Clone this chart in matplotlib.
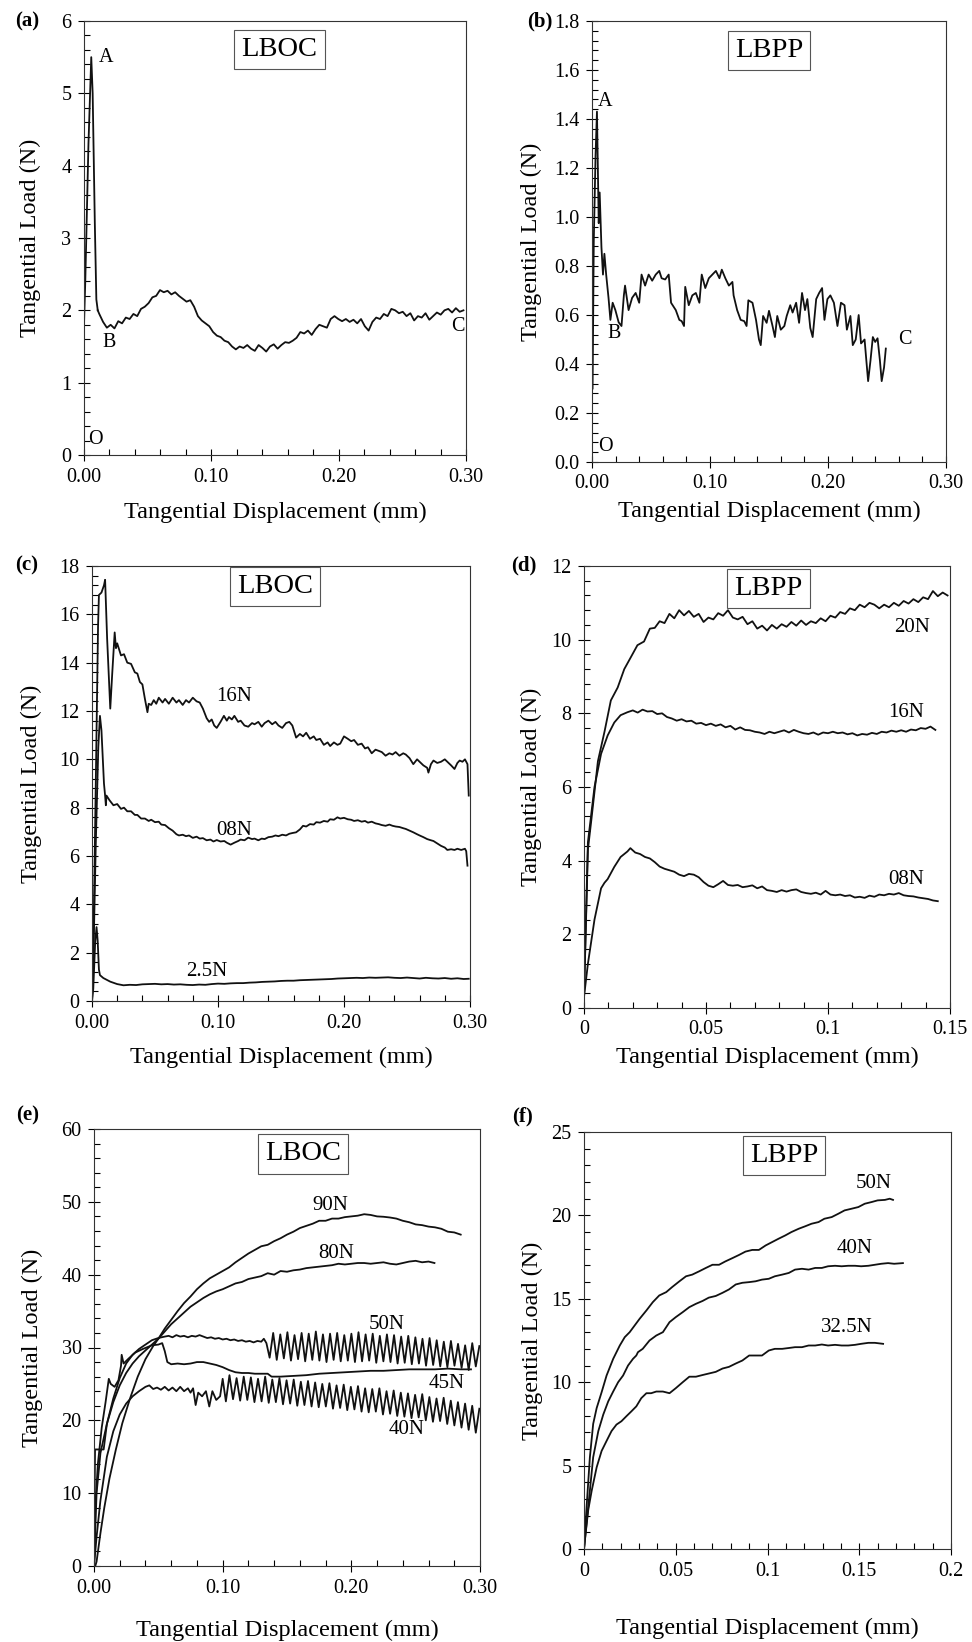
import numpy as np
import matplotlib
matplotlib.use('Agg')
import matplotlib.pyplot as plt
from matplotlib.ticker import MultipleLocator, FormatStrFormatter

plt.rcParams['font.family'] = 'Liberation Serif'

# ---------------- data ----------------
# (a) LBOC, single run: O-A rise, A peak, B drop, noisy plateau to C
A_START_X = [0.0, 0.0, 0.001, 0.0035, 0.0057, 0.0068, 0.0085, 0.0097, 0.0108]
A_START_Y = [1.2, 1.8, 2.4, 4.3, 5.5, 5.0, 3.2, 2.15, 2.0]
A_NOISE_Y = [1.95, 1.84, 1.76, 1.80, 1.75, 1.85, 1.82, 1.90, 1.88, 1.95, 1.92, 2.02,
             2.05, 2.10, 2.18, 2.20, 2.28, 2.25, 2.27, 2.22, 2.25, 2.20, 2.16, 2.12,
             2.14, 2.05, 1.92, 1.86, 1.82, 1.78, 1.70, 1.65, 1.63, 1.58, 1.56, 1.50,
             1.46, 1.50, 1.48, 1.52, 1.47, 1.44, 1.52, 1.48, 1.43, 1.50, 1.53, 1.47,
             1.52, 1.56, 1.55, 1.58, 1.62, 1.70, 1.68, 1.72, 1.66, 1.74, 1.80, 1.78,
             1.76, 1.88, 1.92, 1.88, 1.85, 1.88, 1.84, 1.87, 1.82, 1.88, 1.78, 1.72,
             1.84, 1.90, 1.88, 1.95, 1.92, 2.02, 2.00, 1.96, 1.98, 1.92, 1.96, 1.86,
             1.92, 1.90, 1.96, 1.87, 1.92, 1.97, 1.94, 2.00, 2.02, 1.97, 2.03, 1.98, 2.00]

# (b) LBPP, single run
B_RUN = np.array([
    (0.0005, 0.30), (0.0015, 0.90), (0.003, 1.25), (0.0042, 1.43), (0.0057, 0.975),
    (0.0065, 1.10), (0.008, 0.877), (0.0093, 0.765), (0.0105, 0.85), (0.012, 0.765),
    (0.014, 0.67), (0.0156, 0.58), (0.0175, 0.65), (0.0198, 0.62), (0.0226, 0.57),
    (0.025, 0.555), (0.027, 0.68), (0.028, 0.72), (0.031, 0.62), (0.034, 0.67),
    (0.037, 0.69), (0.040, 0.65), (0.042, 0.765), (0.045, 0.72), (0.048, 0.765),
    (0.051, 0.74), (0.054, 0.765), (0.057, 0.78), (0.059, 0.75), (0.062, 0.745),
    (0.065, 0.765), (0.067, 0.65), (0.071, 0.62), (0.074, 0.58), (0.076, 0.575),
    (0.078, 0.555), (0.079, 0.715), (0.082, 0.64), (0.085, 0.68), (0.088, 0.69),
    (0.091, 0.65), (0.093, 0.765), (0.096, 0.71), (0.099, 0.75), (0.102, 0.765),
    (0.105, 0.78), (0.108, 0.75), (0.110, 0.785), (0.113, 0.75), (0.116, 0.72),
    (0.119, 0.735), (0.120, 0.68), (0.123, 0.62), (0.126, 0.58), (0.129, 0.575),
    (0.131, 0.555), (0.1325, 0.66), (0.136, 0.65), (0.139, 0.58), (0.1415, 0.50),
    (0.143, 0.477), (0.145, 0.596), (0.148, 0.568), (0.150, 0.617), (0.153, 0.555),
    (0.155, 0.51), (0.157, 0.596), (0.160, 0.54), (0.163, 0.555), (0.165, 0.596),
    (0.168, 0.64), (0.170, 0.61), (0.173, 0.65), (0.1755, 0.568), (0.178, 0.69),
    (0.1805, 0.62), (0.1825, 0.665), (0.185, 0.547), (0.187, 0.51), (0.190, 0.665),
    (0.1925, 0.69), (0.195, 0.71), (0.197, 0.58), (0.1995, 0.665), (0.202, 0.68),
    (0.205, 0.65), (0.208, 0.555), (0.211, 0.65), (0.214, 0.64), (0.216, 0.54),
    (0.219, 0.596), (0.221, 0.477), (0.2235, 0.50), (0.226, 0.60), (0.228, 0.484),
    (0.231, 0.50), (0.2325, 0.414), (0.234, 0.33), (0.236, 0.414), (0.238, 0.51),
    (0.240, 0.49), (0.242, 0.505), (0.244, 0.414), (0.2455, 0.33), (0.2475, 0.386),
    (0.249, 0.463)])

# (c) LBOC, normal loads 16N / 08N / 2.5N
C_16N = np.array([
    (0.0, 0.0), (0.001, 2.0), (0.003, 9.0), (0.0048, 15.5), (0.0055, 16.8), (0.0075, 16.9),
    (0.0095, 17.2), (0.0104, 17.43), (0.012, 15.0), (0.0145, 12.1), (0.016, 13.5),
    (0.018, 15.25), (0.019, 14.6), (0.020, 14.8), (0.023, 14.3), (0.0254, 14.35),
    (0.028, 14.0), (0.031, 13.95), (0.034, 13.6), (0.036, 13.55), (0.038, 13.2),
    (0.040, 13.1), (0.042, 12.5), (0.044, 11.95), (0.045, 12.3), (0.047, 12.25),
    (0.049, 12.45), (0.051, 12.3), (0.053, 12.55), (0.056, 12.35), (0.058, 12.5),
    (0.061, 12.3), (0.064, 12.55), (0.067, 12.35), (0.069, 12.45), (0.072, 12.25),
    (0.0746, 12.45), (0.077, 12.35), (0.080, 12.55), (0.083, 12.4), (0.0855, 12.35),
    (0.088, 12.1), (0.091, 11.7), (0.093, 11.55), (0.095, 11.65), (0.097, 11.4),
    (0.099, 11.3), (0.102, 11.55), (0.1047, 11.8), (0.107, 11.6), (0.1087, 11.75),
    (0.111, 11.65), (0.113, 11.8), (0.116, 11.55), (0.118, 11.6), (0.121, 11.4),
    (0.124, 11.35), (0.127, 11.5), (0.129, 11.45), (0.132, 11.55), (0.1347, 11.35),
    (0.137, 11.5), (0.140, 11.6), (0.143, 11.45), (0.1456, 11.55), (0.148, 11.4),
    (0.151, 11.3), (0.154, 11.5), (0.1566, 11.55), (0.159, 11.4), (0.162, 10.9),
    (0.165, 11.05), (0.1675, 10.95), (0.170, 11.1), (0.173, 10.85), (0.176, 10.95),
    (0.178, 10.8), (0.181, 10.85), (0.184, 10.6), (0.187, 10.7), (0.189, 10.55),
    (0.192, 10.7), (0.1948, 10.6), (0.197, 10.65), (0.200, 10.95), (0.203, 10.85),
    (0.2057, 10.75), (0.208, 10.8), (0.211, 10.6), (0.214, 10.65), (0.2167, 10.45),
    (0.219, 10.5), (0.222, 10.25), (0.225, 10.4), (0.2276, 10.35), (0.230, 10.3),
    (0.233, 10.15), (0.236, 10.25), (0.2385, 10.2), (0.241, 10.3), (0.244, 10.15),
    (0.247, 10.25), (0.249, 10.2), (0.252, 10.05), (0.255, 9.8), (0.258, 10.0),
    (0.260, 9.9), (0.263, 9.75), (0.266, 9.65), (0.267, 9.45), (0.269, 9.8),
    (0.271, 9.95), (0.274, 9.85), (0.277, 9.9), (0.280, 10.0), (0.282, 9.9),
    (0.285, 9.75), (0.2877, 9.6), (0.290, 9.85), (0.2918, 9.95), (0.294, 9.9),
    (0.296, 10.0), (0.298, 9.8), (0.299, 8.5)])

C_08N = np.array([
    (0.0, 0.0), (0.001, 1.5), (0.003, 6.5), (0.005, 10.5), (0.0063, 11.8), (0.0075, 11.2),
    (0.0095, 9.0), (0.0104, 8.5), (0.011, 8.1), (0.0115, 8.5), (0.014, 8.3), (0.017, 8.1),
    (0.020, 8.15), (0.023, 7.95), (0.0254, 8.0), (0.028, 7.85), (0.031, 7.85), (0.034, 7.7),
    (0.036, 7.7), (0.039, 7.55), (0.042, 7.55), (0.045, 7.45), (0.047, 7.5), (0.050, 7.4),
    (0.053, 7.42), (0.055, 7.3), (0.058, 7.28), (0.061, 7.15), (0.064, 7.05), (0.067, 6.9),
    (0.069, 6.85), (0.072, 6.88), (0.0746, 6.82), (0.077, 6.85), (0.080, 6.75), (0.083, 6.8),
    (0.0855, 6.72), (0.088, 6.74), (0.091, 6.65), (0.094, 6.68), (0.0964, 6.6), (0.099, 6.66),
    (0.102, 6.6), (0.105, 6.62), (0.107, 6.55), (0.110, 6.47), (0.113, 6.55), (0.116, 6.62),
    (0.118, 6.68), (0.121, 6.65), (0.124, 6.76), (0.127, 6.7), (0.129, 6.72), (0.132, 6.65),
    (0.1347, 6.72), (0.137, 6.7), (0.140, 6.78), (0.143, 6.8), (0.1456, 6.85), (0.148, 6.82),
    (0.151, 6.88), (0.154, 6.85), (0.1566, 6.92), (0.159, 6.95), (0.162, 6.98), (0.165, 7.1),
    (0.1675, 7.25), (0.170, 7.22), (0.173, 7.32), (0.176, 7.3), (0.178, 7.4), (0.181, 7.38),
    (0.184, 7.45), (0.187, 7.42), (0.189, 7.52), (0.192, 7.5), (0.1948, 7.6), (0.197, 7.55),
    (0.200, 7.58), (0.203, 7.52), (0.2057, 7.5), (0.208, 7.45), (0.211, 7.48), (0.214, 7.42),
    (0.2167, 7.45), (0.219, 7.38), (0.222, 7.42), (0.225, 7.35), (0.2276, 7.32), (0.230, 7.28),
    (0.233, 7.25), (0.236, 7.3), (0.2385, 7.25), (0.241, 7.22), (0.244, 7.2), (0.247, 7.15),
    (0.249, 7.12), (0.252, 7.05), (0.255, 6.98), (0.258, 6.9), (0.260, 6.85), (0.263, 6.78),
    (0.266, 6.7), (0.269, 6.65), (0.271, 6.62), (0.274, 6.52), (0.277, 6.42), (0.280, 6.35),
    (0.282, 6.25), (0.285, 6.28), (0.2877, 6.25), (0.290, 6.3), (0.293, 6.25), (0.296, 6.3),
    (0.297, 6.2), (0.298, 5.6)])

C_25N = np.array([
    (0.0, 0.0), (0.001, 0.5), (0.0025, 2.4), (0.0036, 3.06), (0.0045, 2.5), (0.0055, 1.3),
    (0.0063, 1.07), (0.009, 0.95), (0.0145, 0.8), (0.020, 0.7), (0.025, 0.65), (0.030, 0.67),
    (0.035, 0.66), (0.040, 0.69), (0.045, 0.7), (0.050, 0.71), (0.055, 0.69), (0.060, 0.7),
    (0.065, 0.68), (0.070, 0.69), (0.075, 0.67), (0.080, 0.66), (0.085, 0.68), (0.090, 0.67),
    (0.095, 0.7), (0.100, 0.72), (0.105, 0.71), (0.110, 0.73), (0.115, 0.74), (0.120, 0.74),
    (0.125, 0.76), (0.130, 0.77), (0.135, 0.79), (0.140, 0.8), (0.145, 0.81), (0.150, 0.83),
    (0.155, 0.84), (0.160, 0.84), (0.165, 0.86), (0.170, 0.87), (0.175, 0.88), (0.180, 0.89),
    (0.185, 0.9), (0.190, 0.91), (0.195, 0.93), (0.200, 0.94), (0.205, 0.95), (0.210, 0.96),
    (0.215, 0.95), (0.220, 0.97), (0.225, 0.96), (0.230, 0.97), (0.235, 0.98), (0.240, 0.96),
    (0.245, 0.95), (0.250, 0.97), (0.255, 0.95), (0.260, 0.93), (0.265, 0.96), (0.270, 0.94),
    (0.275, 0.93), (0.280, 0.95), (0.285, 0.92), (0.290, 0.94), (0.295, 0.91), (0.299, 0.92)])

# (d) LBPP, normal loads 20N / 16N / 08N: steep start, then noisy part on a 0.002 mm grid
D20_START_X = [0.0, 0.0016, 0.003, 0.0057, 0.0084, 0.011, 0.0138, 0.0165, 0.019, 0.0219, 0.0246, 0.027]
D20_START_Y = [0.3, 4.3, 5.1, 6.7, 7.5, 8.35, 8.7, 9.2, 9.5, 9.85, 9.95, 10.3]
D20_Y = [10.32, 10.50, 10.45, 10.70, 10.58, 10.80, 10.66, 10.78, 10.62, 10.70, 10.48, 10.60,
         10.55, 10.72, 10.65, 10.80, 10.60, 10.55, 10.62, 10.42, 10.50, 10.30, 10.38, 10.25,
         10.40, 10.30, 10.42, 10.35, 10.48, 10.38, 10.52, 10.40, 10.50, 10.45, 10.58, 10.50,
         10.65, 10.60, 10.75, 10.70, 10.85, 10.80, 10.95, 10.88, 11.00, 10.95, 10.85, 10.95,
         10.88, 11.00, 10.92, 11.05, 10.98, 11.10, 11.02, 11.15, 11.10, 11.32, 11.18, 11.28, 11.20]
D16_START_X = [0.0, 0.0016, 0.0043, 0.007, 0.0097, 0.0124, 0.015, 0.0178]
D16_START_Y = [0.3, 4.5, 6.0, 6.9, 7.4, 7.75, 7.95, 8.03]
D16_Y = [8.08, 8.02, 8.10, 8.05, 8.06, 7.98, 8.00, 7.90, 7.86, 7.80, 7.84, 7.78, 7.80, 7.72,
         7.74, 7.68, 7.72, 7.66, 7.70, 7.62, 7.66, 7.56, 7.62, 7.55, 7.54, 7.50, 7.48, 7.44,
         7.50, 7.46, 7.50, 7.54, 7.48, 7.55, 7.50, 7.46, 7.44, 7.48, 7.42, 7.48, 7.46, 7.50,
         7.46, 7.48, 7.43, 7.46, 7.40, 7.44, 7.42, 7.47, 7.44, 7.50, 7.48, 7.53, 7.50, 7.54,
         7.50, 7.56, 7.54, 7.60, 7.58, 7.64, 7.55]
D08_START_X = [0.0, 0.0016, 0.0043, 0.007, 0.0084, 0.0097, 0.0124, 0.015, 0.0178]
D08_START_Y = [0.3, 1.2, 2.4, 3.25, 3.4, 3.5, 3.83, 4.1, 4.25]
D08_Y = [4.34, 4.22, 4.18, 4.10, 4.06, 3.96, 3.84, 3.78, 3.74, 3.70, 3.62, 3.58, 3.64, 3.62,
         3.55, 3.42, 3.32, 3.28, 3.36, 3.45, 3.34, 3.32, 3.34, 3.28, 3.30, 3.33, 3.25, 3.30,
         3.20, 3.18, 3.15, 3.20, 3.16, 3.20, 3.22, 3.15, 3.12, 3.10, 3.13, 3.08, 3.18, 3.08,
         3.06, 3.08, 3.04, 3.06, 3.00, 3.02, 2.99, 3.05, 3.02, 3.08, 3.06, 3.10, 3.08, 3.12,
         3.06, 3.04, 3.03, 3.00, 2.98, 2.96, 2.92, 2.90]

# (e) LBOC, high normal loads
E_90N = np.array([
    (0.001, 0.0), (0.002, 0.6), (0.005, 4.5), (0.008, 8.0), (0.012, 12.0), (0.017, 16.0),
    (0.022, 19.6), (0.028, 23.0), (0.034, 26.0), (0.040, 28.4), (0.046, 30.2), (0.050, 31.2),
    (0.055, 32.6), (0.060, 33.8), (0.065, 35.0), (0.070, 36.1), (0.075, 37.0), (0.080, 38.0),
    (0.085, 38.8), (0.090, 39.5), (0.095, 40.0), (0.100, 40.5), (0.105, 41.0), (0.110, 41.7),
    (0.115, 42.3), (0.120, 42.9), (0.125, 43.4), (0.130, 43.9), (0.135, 44.1), (0.140, 44.6),
    (0.145, 45.0), (0.150, 45.5), (0.155, 45.9), (0.160, 46.4), (0.165, 46.7), (0.170, 47.0),
    (0.175, 47.4), (0.180, 47.4), (0.185, 47.7), (0.190, 47.7), (0.195, 47.9), (0.200, 48.0),
    (0.205, 48.1), (0.210, 48.3), (0.215, 48.2), (0.220, 48.0), (0.225, 47.95), (0.230, 47.85),
    (0.235, 47.7), (0.240, 47.4), (0.245, 47.2), (0.250, 46.9), (0.255, 46.8), (0.260, 46.6),
    (0.265, 46.5), (0.270, 46.3), (0.275, 45.9), (0.280, 45.8), (0.285, 45.5)])

E_80N = np.array([
    (0.0, 0.0), (0.002, 10.0), (0.005, 15.5), (0.010, 19.5), (0.015, 22.5), (0.020, 24.8),
    (0.025, 26.5), (0.030, 27.8), (0.035, 28.8), (0.040, 29.6), (0.045, 30.4), (0.050, 31.2),
    (0.055, 32.2), (0.060, 33.2), (0.065, 34.0), (0.070, 34.8), (0.075, 35.6), (0.080, 36.2),
    (0.085, 36.8), (0.090, 37.3), (0.095, 37.7), (0.100, 38.0), (0.105, 38.4), (0.110, 38.8),
    (0.115, 39.0), (0.120, 39.4), (0.125, 39.6), (0.130, 39.8), (0.135, 40.2), (0.140, 40.0),
    (0.145, 40.5), (0.150, 40.4), (0.155, 40.6), (0.160, 40.7), (0.165, 40.9), (0.170, 41.0),
    (0.175, 41.1), (0.180, 41.2), (0.185, 41.3), (0.190, 41.5), (0.195, 41.4), (0.200, 41.5),
    (0.205, 41.6), (0.210, 41.6), (0.215, 41.5), (0.220, 41.6), (0.225, 41.7), (0.230, 41.5),
    (0.235, 41.4), (0.240, 41.6), (0.245, 41.8), (0.250, 41.9), (0.255, 41.7), (0.260, 41.8),
    (0.2646, 41.6)])

E_50N = np.array([
    (0.0, 0.0), (0.0008, 16.0), (0.0075, 16.0), (0.010, 19.5), (0.015, 23.0), (0.020, 25.8),
    (0.025, 27.8), (0.030, 29.0), (0.035, 29.8), (0.040, 30.4), (0.045, 31.0), (0.050, 31.3),
    (0.055, 31.5), (0.058, 31.6), (0.061, 31.4), (0.064, 31.7), (0.067, 31.5), (0.070, 31.6),
    (0.073, 31.4), (0.076, 31.6), (0.079, 31.5), (0.082, 31.7), (0.085, 31.5), (0.088, 31.3),
    (0.091, 31.4), (0.094, 31.2), (0.097, 31.3), (0.100, 31.1), (0.103, 31.2), (0.106, 31.0),
    (0.109, 31.1), (0.112, 30.9), (0.115, 31.0), (0.118, 30.8), (0.121, 30.9), (0.124, 30.7),
    (0.127, 30.9), (0.130, 30.8), (0.132, 31.2), (0.134, 30.6)])
E50_LO = [28.6, 28.3, 28.5, 28.2, 28.4, 28.1, 28.3, 28.2, 28.0, 28.3, 28.1, 28.2, 28.0, 28.1, 28.2,
          27.9, 28.1, 28.0, 27.8, 27.9, 27.7, 27.8, 27.5, 27.6, 27.4, 27.3, 27.5, 27.2, 26.9, 27.4]
E50_HI = [32.0, 31.8, 32.1, 31.7, 32.0, 31.9, 32.2, 31.8, 31.9, 32.0, 31.7, 31.9, 32.1, 31.8, 31.9,
          31.6, 31.8, 31.7, 31.5, 31.6, 31.4, 31.2, 31.3, 31.0, 30.8, 30.9, 30.5, 30.3, 30.6, 30.2]

E_45N = np.array([
    (0.0, 0.0), (0.001, 8.0), (0.003, 14.0), (0.006, 19.0), (0.009, 22.5), (0.0115, 25.7),
    (0.013, 25.0), (0.016, 24.6), (0.019, 25.5), (0.021, 27.5), (0.0215, 29.0), (0.023, 27.8),
    (0.027, 28.5), (0.032, 29.3), (0.038, 29.8), (0.045, 30.3), (0.050, 30.4), (0.053, 30.6),
    (0.055, 29.5), (0.057, 28.0), (0.060, 27.7), (0.065, 27.8), (0.070, 27.7), (0.075, 27.8),
    (0.080, 28.0), (0.085, 28.0), (0.090, 27.8), (0.095, 27.6), (0.100, 27.3), (0.105, 26.9),
    (0.110, 26.6), (0.115, 26.5), (0.120, 26.5), (0.125, 26.4), (0.130, 26.4), (0.135, 26.4),
    (0.138, 26.0), (0.145, 26.0), (0.155, 26.1), (0.165, 26.2), (0.175, 26.4), (0.185, 26.5),
    (0.195, 26.6), (0.205, 26.7), (0.215, 26.8), (0.225, 26.8), (0.235, 26.9), (0.245, 27.0),
    (0.255, 27.0), (0.265, 27.0), (0.275, 27.1), (0.285, 27.0), (0.293, 27.0)])

E_40N = np.array([
    (0.0, 0.0), (0.002, 4.0), (0.005, 9.0), (0.010, 15.0), (0.015, 18.5), (0.020, 20.8),
    (0.025, 22.3), (0.030, 23.3), (0.035, 24.0), (0.040, 24.6), (0.043, 24.8), (0.046, 24.3),
    (0.049, 24.5), (0.052, 24.2), (0.055, 24.6), (0.058, 24.1), (0.061, 24.5), (0.064, 24.0),
    (0.067, 24.6), (0.070, 24.0), (0.073, 24.4), (0.075, 23.8), (0.077, 24.4), (0.079, 22.1),
    (0.081, 23.8), (0.084, 23.3), (0.087, 24.0), (0.0896, 21.9), (0.092, 24.0), (0.095, 22.8),
    (0.098, 23.3), (0.100, 25.7)])
E40_LO = [22.6, 22.9, 22.7, 22.8, 22.5, 22.6, 22.4, 22.5, 22.2, 22.3, 22.0, 22.1, 21.9, 21.8,
          21.9, 21.6, 21.7, 21.4, 21.5, 21.2, 21.1, 21.2, 20.8, 20.9, 20.6, 20.5, 20.3, 20.4,
          20.0, 19.8, 19.9, 19.5, 19.3, 19.0, 18.7, 18.3]
E40_HI = [26.2, 25.8, 26.0, 25.9, 25.7, 26.0, 25.6, 25.8, 25.5, 25.6, 25.3, 25.4, 25.2, 25.0,
          25.1, 24.8, 24.9, 24.6, 24.7, 24.4, 24.3, 24.4, 24.0, 24.1, 23.8, 23.7, 23.5, 23.6,
          23.2, 23.0, 23.1, 22.7, 22.5, 22.3, 22.0, 21.6]

# (f) LBPP, high normal loads
F_50N = np.array([
    (0.0, 0.0), (0.0005, 0.95), (0.0014, 2.5), (0.0032, 5.5), (0.005, 7.5), (0.0069, 8.45),
    (0.0096, 9.4), (0.0123, 10.4), (0.0159, 11.4), (0.0195, 12.2), (0.0222, 12.7), (0.0249, 13.0),
    (0.0276, 13.4), (0.0303, 13.8), (0.034, 14.3), (0.0375, 14.8), (0.041, 15.2), (0.0448, 15.4),
    (0.048, 15.7), (0.052, 16.05), (0.0556, 16.35), (0.059, 16.45), (0.0628, 16.65),
    (0.0664, 16.85), (0.070, 17.04), (0.0736, 17.04), (0.077, 17.24), (0.0809, 17.44),
    (0.0845, 17.63), (0.088, 17.83), (0.0917, 17.93), (0.0953, 17.93), (0.099, 18.2),
    (0.1025, 18.4), (0.106, 18.6), (0.1097, 18.8), (0.113, 19.0), (0.117, 19.2), (0.1206, 19.35),
    (0.124, 19.5), (0.1278, 19.6), (0.131, 19.8), (0.135, 19.9), (0.1386, 20.1), (0.142, 20.3),
    (0.1458, 20.4), (0.1495, 20.5), (0.153, 20.7), (0.1567, 20.8), (0.160, 20.9), (0.164, 20.93),
    (0.1666, 21.0), (0.1684, 20.93)])

F_40N = np.array([
    (0.0, 0.0), (0.0014, 1.54), (0.0032, 3.5), (0.005, 5.5), (0.0078, 7.07), (0.0105, 8.06),
    (0.0132, 8.85), (0.0159, 9.44), (0.0186, 10.0), (0.0213, 10.4), (0.024, 11.0), (0.0267, 11.4),
    (0.0285, 11.6), (0.0294, 11.8), (0.032, 12.0), (0.0357, 12.5), (0.0394, 12.8), (0.043, 13.0),
    (0.0466, 13.6), (0.050, 13.9), (0.0538, 14.2), (0.0574, 14.5), (0.061, 14.7), (0.0646, 14.87),
    (0.068, 15.07), (0.0718, 15.17), (0.0755, 15.36), (0.079, 15.56), (0.0827, 15.86),
    (0.0863, 15.96), (0.090, 16.0), (0.0935, 16.05), (0.097, 16.15), (0.1007, 16.2),
    (0.104, 16.35), (0.108, 16.45), (0.1116, 16.55), (0.115, 16.75), (0.1188, 16.8),
    (0.1224, 16.75), (0.126, 16.85), (0.1296, 16.85), (0.133, 16.95), (0.1368, 16.98),
    (0.1404, 16.95), (0.144, 16.98), (0.1477, 16.98), (0.151, 16.95), (0.155, 16.98),
    (0.1585, 17.04), (0.162, 17.1), (0.1657, 17.14), (0.169, 17.1), (0.1738, 17.14)])

F_325N = np.array([
    (0.0, 0.0), (0.0005, 0.55), (0.0023, 2.33), (0.0042, 3.5), (0.0069, 4.9), (0.0096, 5.88),
    (0.0123, 6.48), (0.015, 7.07), (0.0177, 7.46), (0.0204, 7.66), (0.0231, 7.96), (0.0258, 8.25),
    (0.0285, 8.55), (0.0312, 9.04), (0.034, 9.34), (0.0366, 9.34), (0.0394, 9.44), (0.043, 9.44),
    (0.0466, 9.34), (0.050, 9.64), (0.0538, 10.0), (0.0574, 10.33), (0.061, 10.33),
    (0.0646, 10.43), (0.068, 10.52), (0.0718, 10.62), (0.0755, 10.82), (0.079, 10.92),
    (0.0827, 11.12), (0.0863, 11.3), (0.090, 11.6), (0.0935, 11.6), (0.097, 11.6),
    (0.1007, 11.9), (0.104, 12.0), (0.108, 12.0), (0.1116, 12.05), (0.115, 12.1), (0.1188, 12.1),
    (0.1224, 12.2), (0.126, 12.2), (0.1296, 12.26), (0.133, 12.2), (0.1368, 12.24),
    (0.1404, 12.2), (0.144, 12.2), (0.1477, 12.24), (0.151, 12.3), (0.155, 12.36),
    (0.1585, 12.36), (0.163, 12.3)])

# ---------------- figure ----------------
W, H = 972, 1642
fig = plt.figure(figsize=(W / 100, H / 100), dpi=100)
LINE = dict(color='#111111', lw=1.3)


def add_axes(left, top, right, bottom, xlab_y, ylab_x):
    ax = fig.add_axes([left / W, 1 - bottom / H, (right - left) / W, (bottom - top) / H])
    ax.set_xlabel('Tangential Displacement (mm)', fontsize=17.5)
    ax.set_ylabel('Tangential Load (N)', fontsize=17.5)
    # label centres placed in figure pixels
    ax.xaxis.set_label_coords(0.5, (bottom - xlab_y) / (bottom - top))
    ax.yaxis.set_label_coords((ylab_x - left) / (right - left), 0.5)
    ax.xaxis.label.set_verticalalignment('center')
    ax.yaxis.label.set_verticalalignment('center')
    return ax


def style(ax, xmax, ymax, xmaj, xmin, ymaj, ymin, xfmt, yfmt):
    ax.set_xlim(0, xmax)
    ax.set_ylim(0, ymax)
    ax.xaxis.set_major_locator(MultipleLocator(xmaj))
    ax.xaxis.set_minor_locator(MultipleLocator(xmin))
    ax.yaxis.set_major_locator(MultipleLocator(ymaj))
    ax.yaxis.set_minor_locator(MultipleLocator(ymin))
    ax.xaxis.set_major_formatter(FormatStrFormatter(xfmt))
    ax.yaxis.set_major_formatter(FormatStrFormatter(yfmt))
    ax.tick_params(which='major', direction='inout', length=8, width=0.8, labelsize=14.5,
                   top=False, right=False, pad=5)
    ax.tick_params(which='minor', direction='in', length=4, width=0.8, top=False, right=False)
    for s in ax.spines.values():
        s.set_linewidth(0.8)
        s.set_color('#333333')


def tag(ax, fx, fy, s):
    ax.text(fx, fy, s, transform=ax.transAxes, ha='center', va='center', fontsize=20.5,
            bbox=dict(boxstyle='square,pad=0.25', fc='white', ec='#555555', lw=0.8))


def zigzag(lo, hi):
    return [v for pair in zip(lo, hi) for v in pair]


# (a)
ax = add_axes(84, 21, 466, 455, 512, 30)
ax.plot(A_START_X, A_START_Y, **LINE)
ax.plot(np.concatenate([[A_START_X[-1]], np.linspace(0.012, 0.298, len(A_NOISE_Y))]),
        [A_START_Y[-1]] + A_NOISE_Y, **LINE)
style(ax, 0.30, 6, 0.10, 0.02, 1, 0.2, '%.2f', '%d')
tag(ax, 0.512, 0.935, 'LBOC')
for s, x, y in [('A', 0.017, 5.5), ('B', 0.020, 1.55), ('C', 0.2935, 1.77), ('O', 0.009, 0.21)]:
    ax.text(x, y, s, ha='center', va='center', fontsize=14.5)

# (b)
ax = add_axes(592, 21, 946, 462, 511, 531)
ax.plot(B_RUN[:, 0], B_RUN[:, 1], **LINE)
style(ax, 0.30, 1.8, 0.10, 0.02, 0.2, 0.04, '%.2f', '%.1f')
tag(ax, 0.5, 0.933, 'LBPP')
for s, x, y in [('A', 0.0113, 1.47), ('B', 0.0184, 0.526), ('C', 0.265, 0.498), ('O', 0.0113, 0.063)]:
    ax.text(x, y, s, ha='center', va='center', fontsize=14.5)

# (c)
ax = add_axes(92, 566, 470, 1001, 1057, 31)
for run in (C_16N, C_08N, C_25N):
    ax.plot(run[:, 0], run[:, 1], **LINE)
style(ax, 0.30, 18, 0.10, 0.02, 2, 0.4, '%.2f', '%d')
tag(ax, 0.484, 0.953, 'LBOC')
for s, x, y in [('16N', 0.1128, 12.6), ('08N', 0.1128, 7.04), ('2.5N', 0.091, 1.21)]:
    ax.text(x, y, s, ha='center', va='center', fontsize=15)

# (d)
ax = add_axes(584, 566, 950, 1008, 1057, 531)
for sx, sy, ny, x0, x1 in [(D20_START_X, D20_START_Y, D20_Y, 0.029, 0.149),
                           (D16_START_X, D16_START_Y, D16_Y, 0.020, 0.144),
                           (D08_START_X, D08_START_Y, D08_Y, 0.019, 0.145)]:
    ax.plot(np.concatenate([sx, np.linspace(x0, x1, len(ny))]), sy + ny, **LINE)
style(ax, 0.15, 12, 0.05, 0.01, 2, 0.4, '%g', '%d')
tag(ax, 0.504, 0.949, 'LBPP')
for s, x, y in [('20N', 0.1345, 10.32), ('16N', 0.132, 8.03), ('08N', 0.132, 3.5)]:
    ax.text(x, y, s, ha='center', va='center', fontsize=15)

# (e)
ax = add_axes(94, 1129, 480, 1566, 1630, 32)
ax.plot(E_90N[:, 0], E_90N[:, 1], **LINE)
ax.plot(E_80N[:, 0], E_80N[:, 1], **LINE)
ax.plot(E_45N[:, 0], E_45N[:, 1], **LINE)
z50 = zigzag(E50_LO, E50_HI)
ax.plot(np.concatenate([E_50N[:, 0], np.linspace(0.1365, 0.2995, len(z50))]),
        np.concatenate([E_50N[:, 1], z50]), **LINE)
z40 = zigzag(E40_LO, E40_HI)
ax.plot(np.concatenate([E_40N[:, 0], np.linspace(0.1025, 0.2995, len(z40))]),
        np.concatenate([E_40N[:, 1], z40]), **LINE)
style(ax, 0.30, 60, 0.10, 0.02, 10, 2, '%.2f', '%d')
tag(ax, 0.542, 0.943, 'LBOC')
for s, x, y in [('90N', 0.184, 49.5), ('80N', 0.188, 42.9), ('50N', 0.2276, 33.2),
                ('45N', 0.274, 25.0), ('40N', 0.2426, 18.7)]:
    ax.text(x, y, s, ha='center', va='center', fontsize=15)

# (f)
ax = add_axes(584, 1132, 951, 1549, 1628, 532)
for run in (F_50N, F_40N, F_325N):
    ax.plot(run[:, 0], run[:, 1], **LINE)
style(ax, 0.2, 25, 0.05, 0.01, 5, 1, '%g', '%d')
tag(ax, 0.545, 0.943, 'LBPP')
for s, x, y in [('50N', 0.1576, 21.9), ('40N', 0.1477, 18.0), ('32.5N', 0.143, 13.3)]:
    ax.text(x, y, s, ha='center', va='center', fontsize=15)

# panel letters
for s, px, py in [('(a)', 27, 21), ('(b)', 540, 21), ('(c)', 27, 565),
                  ('(d)', 524, 565), ('(e)', 28, 1115), ('(f)', 522, 1116)]:
    fig.text(px / W, 1 - py / H, s, ha='center', va='center', fontsize=15, fontweight='bold')

fig.savefig('out.png', dpi=100)
